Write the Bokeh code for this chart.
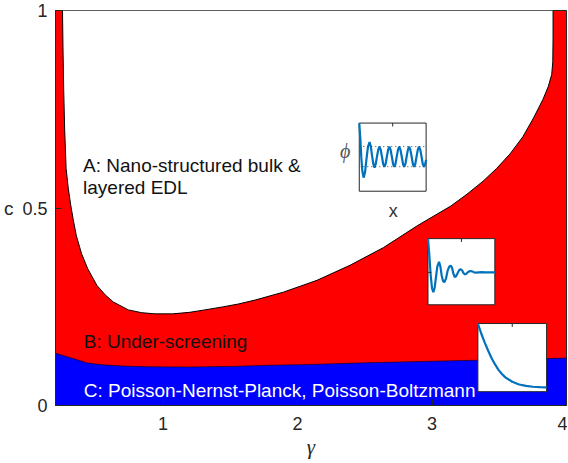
from bokeh.plotting import figure
from bokeh.models import Range1d, FixedTicker, Label
from bokeh.embed import file_html
from bokeh.resources import INLINE

# ---------------- data ----------------
# boundary between region A (white) and region B (red)
gamma_AB = [0.252, 0.256, 0.261, 0.268, 0.279, 0.295, 0.312, 0.332, 0.355, 0.393, 0.44, 0.508,
            0.57, 0.63, 0.742, 0.84, 0.94, 1.07, 1.2, 1.31, 1.45, 1.56, 1.685, 1.895, 2.145,
            2.39, 2.64, 2.89, 3.14, 3.26, 3.38, 3.48, 3.58, 3.675, 3.755, 3.825, 3.865, 3.89,
            3.898, 3.9, 3.9]
c_AB = [1.0, 0.9, 0.8, 0.7, 0.6, 0.55, 0.51, 0.47, 0.43, 0.385, 0.346, 0.304,
        0.28, 0.262, 0.242, 0.235, 0.232, 0.232, 0.236, 0.242, 0.25, 0.257, 0.267, 0.287, 0.317,
        0.355, 0.40, 0.455, 0.505, 0.535, 0.568, 0.60, 0.637, 0.68, 0.728, 0.775, 0.808, 0.838,
        0.87, 0.93, 1.0]

# boundary between region B (red) and region C (blue)
gamma_C = [0.2, 0.3, 0.44, 0.55, 0.7, 0.9, 1.2, 1.5, 1.8, 2.1, 2.5, 3.0, 3.5, 4.0]
c_C = [0.1325, 0.122, 0.1075, 0.103, 0.100, 0.098, 0.0975, 0.099, 0.102, 0.104, 0.108, 0.112, 0.116, 0.12]

x_ticks = [1, 2, 3, 4]
y_ticks = [0, 0.5, 1]
y_tick_labels = ["0", "0.5", "1"]

region_texts = ["A: Nano-structured bulk &", "layered EDL", "B: Under-screening",
                "C: Poisson-Nernst-Planck, Poisson-Boltzmann"]

# inset schematic profiles (normalised inset coordinates)
inset1_x = [0.0, 0.015, 0.03, 0.045, 0.065, 0.085, 0.105, 0.13, 0.154, 0.172, 0.19, 0.21, 0.228,
            0.246, 0.265, 0.284, 0.302, 0.32, 0.339, 0.358, 0.376, 0.394, 0.413, 0.432, 0.45,
            0.468, 0.487, 0.506, 0.524, 0.542, 0.561, 0.58, 0.598, 0.616, 0.635, 0.654, 0.672,
            0.69, 0.709, 0.728, 0.746, 0.764, 0.783, 0.802, 0.82, 0.838, 0.857, 0.876, 0.894,
            0.912, 0.931, 0.95, 0.968, 0.986, 1.0]
inset1_y = [1.0, 0.78, 0.50, 0.30, 0.20, 0.27, 0.45, 0.65, 0.72, 0.66, 0.53, 0.40, 0.345,
            0.40, 0.51, 0.61, 0.655, 0.61, 0.51, 0.40, 0.36, 0.40, 0.51, 0.61, 0.655,
            0.61, 0.51, 0.40, 0.36, 0.40, 0.51, 0.61, 0.655, 0.61, 0.51, 0.40, 0.36,
            0.40, 0.51, 0.61, 0.655, 0.61, 0.51, 0.40, 0.36, 0.40, 0.51, 0.61, 0.655,
            0.61, 0.51, 0.40, 0.36, 0.40, 0.46]
inset1_levels = [0.655, 0.36]

inset2_x = [0.0, 0.02, 0.04, 0.06, 0.08, 0.10, 0.12, 0.14, 0.165, 0.185, 0.205, 0.225, 0.245,
            0.27, 0.295, 0.32, 0.34, 0.36, 0.38, 0.40, 0.42, 0.45, 0.47, 0.49, 0.51, 0.53,
            0.55, 0.57, 0.60, 0.63, 0.66, 0.69, 0.72, 0.76, 0.80, 0.85, 0.90, 1.0]
inset2_y = [1.0, 0.75, 0.45, 0.25, 0.19, 0.26, 0.42, 0.58, 0.65, 0.58, 0.44, 0.36, 0.34,
            0.40, 0.52, 0.58, 0.59, 0.56, 0.47, 0.42, 0.43, 0.49, 0.53, 0.535, 0.52, 0.48,
            0.46, 0.465, 0.495, 0.51, 0.505, 0.49, 0.485, 0.49, 0.494, 0.49, 0.49, 0.49]

inset3_x = [0.0, 0.05, 0.1, 0.15, 0.2, 0.25, 0.3, 0.35, 0.4, 0.5, 0.6, 0.7, 0.8, 0.9, 1.0]
inset3_y = [1.0, 0.85, 0.72, 0.60, 0.49, 0.40, 0.32, 0.26, 0.21, 0.145, 0.105, 0.085, 0.072, 0.066, 0.062]

# ---------------- figure ----------------
X0, X1 = 0.2, 4.0
Y0, Y1 = 0.0, 1.0
FONT = "Liberation Sans"
DARK = "#262626"

p = figure(width=567, height=462, x_range=Range1d(X0, X1), y_range=Range1d(Y0, Y1),
           output_backend="svg", toolbar_location=None,
           min_border_left=54, min_border_right=1, min_border_top=10, min_border_bottom=57)
p.background_fill_color = "#FF0000"
p.border_fill_color = "white"
p.grid.visible = False
p.outline_line_color = DARK
p.outline_line_width = 1

for ax in (p.xaxis[0], p.yaxis[0]):
    ax.major_tick_in = 6
    ax.major_tick_out = 0
    ax.minor_tick_line_color = None
    ax.axis_line_color = DARK
    ax.major_tick_line_color = DARK
    ax.major_label_text_font = FONT
    ax.major_label_text_font_size = "18px"
    ax.major_label_text_color = DARK
p.xaxis.ticker = FixedTicker(ticks=x_ticks)
p.yaxis.ticker = FixedTicker(ticks=y_ticks)
p.yaxis.major_label_overrides = {t: s for t, s in zip(y_ticks, y_tick_labels)}
p.xaxis.major_label_standoff = 11
p.yaxis.major_label_standoff = 8

p.xaxis.axis_label = "γ"
p.xaxis.axis_label_text_font = "Liberation Serif"
p.xaxis.axis_label_text_font_style = "italic"
p.xaxis.axis_label_text_font_size = "21px"
p.xaxis.axis_label_text_color = DARK
p.xaxis.axis_label_standoff = 2

p.yaxis.axis_label = "c"
p.yaxis.axis_label_orientation = "horizontal"
p.yaxis.axis_label_text_font = FONT
p.yaxis.axis_label_text_font_style = "normal"
p.yaxis.axis_label_text_font_size = "19px"
p.yaxis.axis_label_text_color = DARK
p.yaxis.axis_label_text_baseline = "bottom"
p.yaxis.axis_label_standoff = 6

# region A (white) over red background, region C (blue)
p.patch(gamma_AB, c_AB, fill_color="white", line_color=None)
p.line(gamma_AB, c_AB, line_color="black", line_width=1)
p.varea(x=gamma_C, y1=0, y2=c_C, fill_color="#0000FF")
p.line(gamma_C, c_C, line_color="black", line_width=0.8, line_alpha=0.7)

# region labels
p.add_layout(Label(x=0.405, y=0.6075, text=region_texts[0], text_font=FONT,
                   text_font_size="19px", text_color="#111111", text_baseline="alphabetic"))
p.add_layout(Label(x=0.405, y=0.5525, text=region_texts[1], text_font=FONT,
                   text_font_size="19px", text_color="#111111", text_baseline="alphabetic"))
p.add_layout(Label(x=0.41, y=0.1625, text=region_texts[2], text_font=FONT,
                   text_font_size="19px", text_color="#111111", text_baseline="alphabetic"))
p.add_layout(Label(x=0.41, y=0.0375, text=region_texts[3], text_font=FONT,
                   text_font_size="19px", text_color="white", text_baseline="alphabetic"))


def draw_inset(name, box, xs, ys):
    g0, g1, c0, c1 = box
    p.extra_x_ranges[name] = Range1d(start=(X0 - g0) / (g1 - g0), end=(X1 - g0) / (g1 - g0))
    p.extra_y_ranges[name] = Range1d(start=(Y0 - c0) / (c1 - c0), end=(Y1 - c0) / (c1 - c0))
    p.quad(left=0, right=1, bottom=0, top=1, fill_color="white", line_color=DARK,
           line_width=1, x_range_name=name, y_range_name=name)
    p.segment(x0=[0.5], y0=[1.0], x1=[0.5], y1=[0.95], line_color=DARK, line_width=1,
              x_range_name=name, y_range_name=name)
    p.line(xs, ys, line_color="#0072BD", line_width=2.2, x_range_name=name, y_range_name=name)


draw_inset("i1", (2.459, 2.956, 0.5425, 0.715), inset1_x, inset1_y)
p.segment(x0=[0, 0], y0=inset1_levels, x1=[1, 1], y1=inset1_levels, line_color="#444444",
          line_width=1, line_dash="1 3", x_range_name="i1", y_range_name="i1")
p.add_layout(Label(x=-0.21, y=0.59, text="ϕ", text_align="center", text_baseline="middle",
                   text_font="Liberation Serif", text_font_style="italic", text_font_size="20px",
                   text_color="#555555", x_range_name="i1", y_range_name="i1"))
p.add_layout(Label(x=0.51, y=-0.29, text="x", text_align="center", text_baseline="middle",
                   text_font=FONT, text_font_size="18px", text_color="#333333",
                   x_range_name="i1", y_range_name="i1"))

draw_inset("i2", (2.970, 3.467, 0.255, 0.4225), inset2_x, inset2_y)
p.segment(x0=[0.0], y0=[0.49], x1=[0.05], y1=[0.49], line_color=DARK, line_width=1,
          x_range_name="i2", y_range_name="i2")

draw_inset("i3", (3.341, 3.852, 0.035, 0.2075), inset3_x, inset3_y)

open("out.html", "w").write(file_html(p, INLINE))
